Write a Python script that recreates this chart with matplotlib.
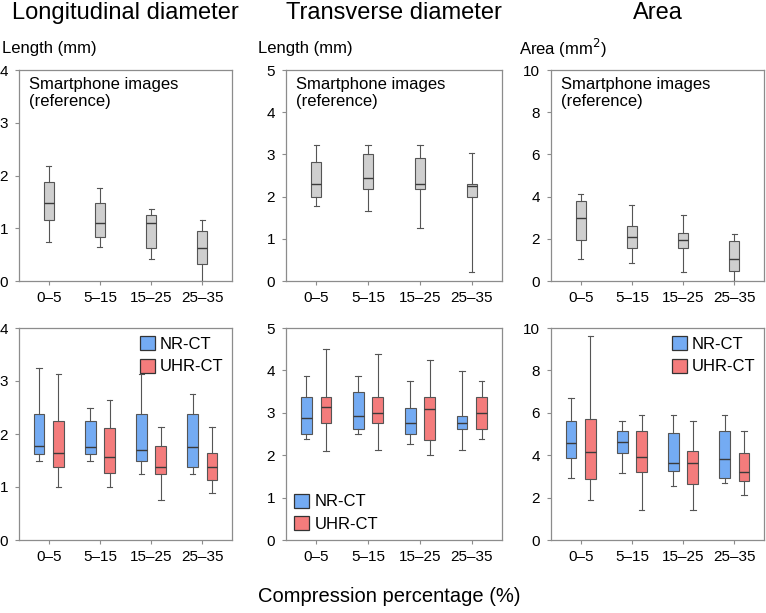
import matplotlib
matplotlib.use("Agg")
import matplotlib.pyplot as plt
from matplotlib.patches import Patch

plt.rcParams['font.family'] = ['Liberation Sans', 'DejaVu Sans']

# Data: each box is [low whisker, Q1, median, Q3, high whisker]
GROUPS = ["0–5", "5–15", "15–25", "25–35"]

LONG_PHONE = [[0.74, 1.15, 1.47, 1.88, 2.18],
              [0.64, 0.83, 1.10, 1.47, 1.77],
              [0.42, 0.62, 1.10, 1.25, 1.36],
              [0.00, 0.32, 0.62, 0.94, 1.15]]
TRANS_PHONE = [[1.78, 1.99, 2.30, 2.81, 3.22],
               [1.67, 2.17, 2.45, 3.01, 3.22],
               [1.25, 2.17, 2.30, 2.91, 3.22],
               [0.22, 1.99, 2.24, 2.30, 3.03]]
AREA_PHONE = [[1.02, 1.95, 2.98, 3.80, 4.10],
              [0.83, 1.58, 2.10, 2.63, 3.62],
              [0.43, 1.58, 1.93, 2.26, 3.13],
              [0.00, 0.48, 1.04, 1.88, 2.23]]

LONG_NR = [[1.49, 1.63, 1.77, 2.37, 3.24],
           [1.49, 1.63, 1.76, 2.24, 2.50],
           [1.24, 1.49, 1.69, 2.37, 3.13],
           [1.24, 1.37, 1.76, 2.37, 2.76]]
LONG_UHR = [[1.00, 1.38, 1.64, 2.24, 3.13],
            [1.00, 1.26, 1.57, 2.11, 2.64],
            [0.75, 1.24, 1.38, 1.77, 2.13],
            [0.88, 1.13, 1.38, 1.64, 2.13]]
TRANS_NR = [[2.38, 2.49, 2.88, 3.37, 3.87],
            [2.49, 2.62, 2.92, 3.50, 3.87],
            [2.26, 2.49, 2.75, 3.12, 3.75],
            [2.13, 2.62, 2.75, 2.92, 3.99]]
TRANS_UHR = [[2.10, 2.75, 3.14, 3.37, 4.51],
             [2.13, 2.75, 3.00, 3.37, 4.39],
             [2.01, 2.37, 3.08, 3.37, 4.25],
             [2.38, 2.62, 3.00, 3.37, 3.75]]
AREA_NR = [[2.94, 3.86, 4.57, 5.60, 6.71],
           [3.17, 4.10, 4.63, 5.13, 5.60],
           [2.57, 3.27, 3.65, 5.05, 5.89],
           [2.70, 2.94, 3.83, 5.13, 5.89]]
AREA_UHR = [[1.87, 2.87, 4.14, 5.73, 9.62],
            [1.40, 3.22, 3.90, 5.13, 5.89],
            [1.40, 2.62, 3.65, 4.21, 5.60],
            [2.11, 2.79, 3.22, 4.10, 5.13]]

TITLES = ["Longitudinal diameter", "Transverse diameter", "Area"]
YLABELS = ["Length (mm)", "Length (mm)", "Area (mm$^2$)"]
YMAX = [4, 5, 10]
YSTEP = [1, 1, 2]

GRAY = "#cfcfcf"
BLUE = "#74abf3"
RED = "#f47c7c"
EDGE = "#555555"
SPINE = "#8c8c8c"

W, H = 766, 613
fig = plt.figure(figsize=(W / 100, H / 100), dpi=100)


def px_axes(x0, y0, x1, y1):
    # pixel box (top-left origin) -> figure axes
    return fig.add_axes([x0 / W, 1 - y1 / H, (x1 - x0) / W, (y1 - y0) / H])


def to_stats(rows):
    return [dict(whislo=r[0], q1=r[1], med=r[2], q3=r[3], whishi=r[4]) for r in rows]


def draw_boxes(ax, rows, positions, color, width):
    ax.bxp(to_stats(rows), positions=positions, widths=width, capwidths=width * 0.5,
           patch_artist=True, showfliers=False, manage_ticks=False,
           boxprops=dict(facecolor=color, edgecolor=EDGE, linewidth=0.8),
           medianprops=dict(color="#3a3a3a", linewidth=1.0),
           whiskerprops=dict(color=EDGE, linewidth=0.8),
           capprops=dict(color=EDGE, linewidth=0.8))


def style(ax, ymax, ystep):
    ax.set_xlim(0.42, 4.58)
    ax.set_ylim(0, ymax)
    ax.set_yticks(range(0, ymax + 1, ystep))
    ax.set_xticks([1, 2, 3, 4])
    ax.set_xticklabels(GROUPS)
    for s in ax.spines.values():
        s.set_color(SPINE)
        s.set_linewidth(0.9)
    ax.tick_params(axis="both", color=SPINE, length=3, width=0.8)
    ax.tick_params(axis="x", labelsize=11, pad=4)
    ax.tick_params(axis="y", labelsize=11, pad=5)


cols_x = [(19, 232), (286, 502), (551, 764)]
top_data = [LONG_PHONE, TRANS_PHONE, AREA_PHONE]
nr_data = [LONG_NR, TRANS_NR, AREA_NR]
uhr_data = [LONG_UHR, TRANS_UHR, AREA_UHR]
ylabel_x = [2, 258, 519]
legend_loc = ["upper right", "lower left", "upper right"]

pos = [1, 2, 3, 4]
for i, (x0, x1) in enumerate(cols_x):
    # smartphone reference row
    ax = px_axes(x0, 70, x1, 281)
    draw_boxes(ax, top_data[i], pos, GRAY, 0.2)
    style(ax, YMAX[i], YSTEP[i])
    ax.text(0.047, 0.965, "Smartphone images\n(reference)", transform=ax.transAxes,
            ha="left", va="top", fontsize=12, linespacing=1.15)

    fig.text((x0 + x1) / 2 / W, 1 - 13 / H, TITLES[i], ha="center", va="center", fontsize=17)
    fig.text(ylabel_x[i] / W, 1 - 48 / H, YLABELS[i], ha="left", va="center", fontsize=12)

    # CT row
    ax2 = px_axes(x0, 328, x1, 540)
    draw_boxes(ax2, nr_data[i], [p - 0.19 for p in pos], BLUE, 0.21)
    draw_boxes(ax2, uhr_data[i], [p + 0.19 for p in pos], RED, 0.21)
    style(ax2, YMAX[i], YSTEP[i])
    handles = [Patch(facecolor=BLUE, edgecolor="#333333", linewidth=0.9, label="NR-CT"),
               Patch(facecolor=RED, edgecolor="#333333", linewidth=0.9, label="UHR-CT")]
    ax2.legend(handles=handles, loc=legend_loc[i], frameon=False, fontsize=12,
               handlelength=0.9, handleheight=0.9, handletextpad=0.3,
               labelspacing=0.4, borderaxespad=0.2, borderpad=0.3)

fig.text(389 / W, 1 - 597 / H, "Compression percentage (%)", ha="center", va="center", fontsize=14.5)

fig.savefig("out.png", dpi=100)
